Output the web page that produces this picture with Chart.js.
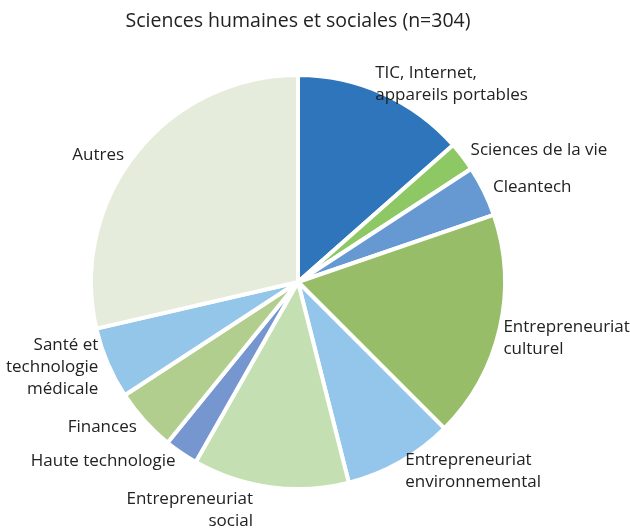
<!DOCTYPE html>
<html>
<head>
<meta charset="utf-8">
<script src="https://cdn.jsdelivr.net/npm/chart.js@4.4.0/dist/chart.umd.min.js"></script>
<style>
  html, body { margin: 0; padding: 0; background: #fff; }
  #wrap { width: 630px; height: 528px; }
</style>
</head>
<body>
<div id="wrap"><canvas id="myChart"></canvas></div>
<script>
// Répartition par domaine, Sciences humaines et sociales (n=304)
const categories = [
  ['TIC, Internet,', 'appareils portables'],
  ['Sciences de la vie'],
  ['Cleantech'],
  ['Entrepreneuriat', 'culturel'],
  ['Entrepreneuriat', 'environnemental'],
  ['Entrepreneuriat', 'social'],
  ['Haute technologie'],
  ['Finances'],
  ['Santé et', 'technologie', 'médicale'],
  ['Autres']
];
const effectifs = [41, 7, 12, 54, 26, 37, 8, 15, 17, 87];
const couleurs = [
  '#2f75bb', '#8dc865', '#6699d1', '#98bd68', '#94c5ea',
  '#c4dfb1', '#7596cf', '#b2ce8f', '#94c6ea', '#e5ecdb'
];

const FONT = '"Open Sans", "DejaVu Sans", sans-serif';

// Étiquettes placées à l'extérieur de chaque secteur, sans trait de rappel
const etiquettesExterieures = {
  id: 'etiquettesExterieures',
  afterDatasetsDraw(chart, args, opts) {
    const ctx = chart.ctx;
    const meta = chart.getDatasetMeta(0);
    const lh = 22;
    const decalages = opts.decalages || {};
    ctx.save();
    ctx.font = '17px ' + FONT;
    ctx.fillStyle = '#222';
    ctx.textBaseline = 'middle';
    meta.data.forEach((arc, i) => {
      const a = (arc.startAngle + arc.endAngle) / 2;
      const r = arc.outerRadius + 10;
      const d = decalages[i] || [0, 0];
      const x = arc.x + Math.cos(a) * r + d[0];
      const y = arc.y + Math.sin(a) * r + d[1];
      const c = Math.cos(a);
      ctx.textAlign = d[2] || (c > 0.25 ? 'left' : (c < -0.25 ? 'right' : 'center'));
      const lignes = categories[i];
      const y0 = y - (lignes.length - 1) * lh / 2;
      lignes.forEach((t, k) => ctx.fillText(t, x, y0 + k * lh));
    });
    ctx.restore();
  }
};

const ctx = document.getElementById('myChart').getContext('2d');
const myChart = new Chart(ctx, {
  type: 'pie',
  data: {
    labels: categories.map(l => l.join(' ')),
    datasets: [{
      data: effectifs,
      backgroundColor: couleurs,
      borderColor: '#ffffff',
      borderWidth: 4
    }]
  },
  options: {
    responsive: true,
    maintainAspectRatio: false,
    animation: false,
    layout: { padding: { left: 89, right: 123, top: 10, bottom: 37 } },
    plugins: {
      legend: { display: false },
      tooltip: { enabled: false },
      title: {
        display: true,
        text: 'Sciences humaines et sociales (n=304)',
        color: '#222',
        font: { family: FONT, size: 19.5, weight: 'normal' },
        padding: { top: 0, bottom: 39.6 }
      },
      etiquettesExterieures: {
        decalages: { 0: [-12, 0], 3: [-6, 7], 5: [-16, 13, 'right'], 9: [-4, 8] }
      }
    }
  },
  plugins: [etiquettesExterieures]
});
</script>
</body>
</html>
